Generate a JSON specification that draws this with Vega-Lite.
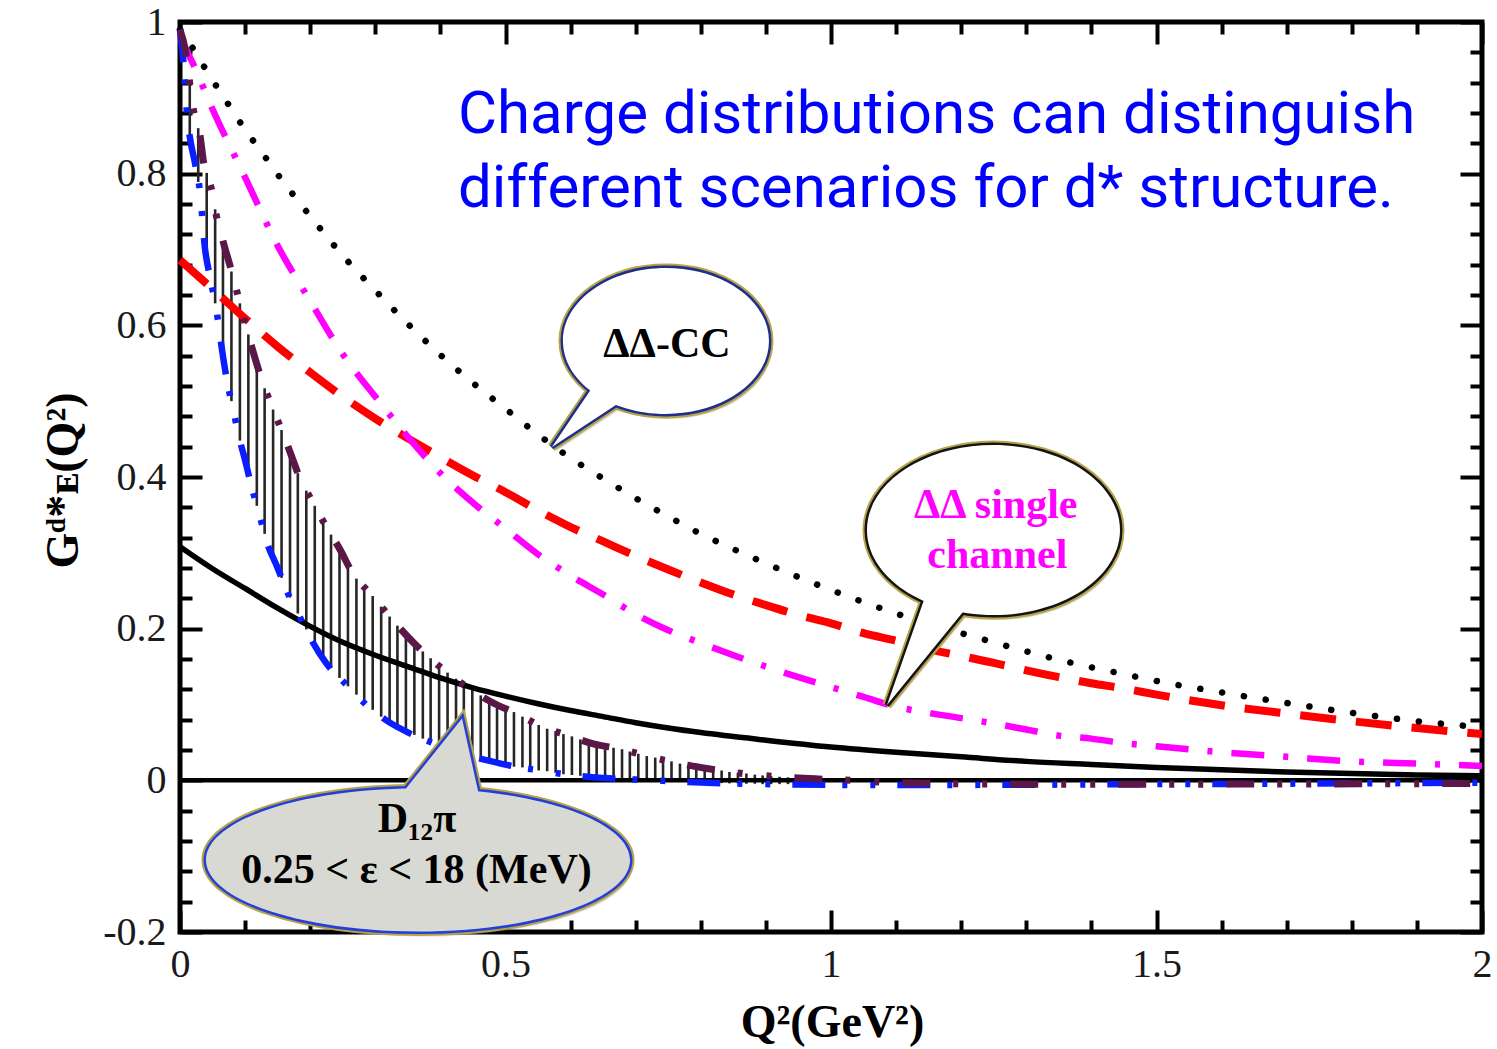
{
"$schema": "https://vega.github.io/schema/vega-lite/v6.json",
"width": 1302, "height": 910,
"autosize": {"type": "none"},
"padding": {"left": 180, "top": 22, "right": 15, "bottom": 117},
"background": "white",
"config": {"view": {"stroke": "black", "strokeWidth": 5}},
"datasets": {
"curves": [
{"s":"cc","q":0,"g":0.99},{"s":"cc","q":0.02,"g":0.965},{"s":"cc","q":0.04,"g":0.937},{"s":"cc","q":0.06,"g":0.91},{"s":"cc","q":0.08,"g":0.884},{"s":"cc","q":0.1,"g":0.858},{"s":"cc","q":0.125,"g":0.829},{"s":"cc","q":0.15,"g":0.799},{"s":"cc","q":0.175,"g":0.771},{"s":"cc","q":0.2,"g":0.744},{"s":"cc","q":0.25,"g":0.692},{"s":"cc","q":0.3,"g":0.646},{"s":"cc","q":0.35,"g":0.602},{"s":"cc","q":0.4,"g":0.561},{"s":"cc","q":0.45,"g":0.524},{"s":"cc","q":0.5,"g":0.49},{"s":"cc","q":0.55,"g":0.456},{"s":"cc","q":0.6,"g":0.425},{"s":"cc","q":0.65,"g":0.398},{"s":"cc","q":0.7,"g":0.372},{"s":"cc","q":0.75,"g":0.348},{"s":"cc","q":0.8,"g":0.325},{"s":"cc","q":0.85,"g":0.305},{"s":"cc","q":0.9,"g":0.286},{"s":"cc","q":0.95,"g":0.268},{"s":"cc","q":1.0,"g":0.251},{"s":"cc","q":1.05,"g":0.235},{"s":"cc","q":1.1,"g":0.22},{"s":"cc","q":1.15,"g":0.207},{"s":"cc","q":1.2,"g":0.194},{"s":"cc","q":1.25,"g":0.182},{"s":"cc","q":1.3,"g":0.17},{"s":"cc","q":1.35,"g":0.159},{"s":"cc","q":1.4,"g":0.149},{"s":"cc","q":1.45,"g":0.14},{"s":"cc","q":1.5,"g":0.131},{"s":"cc","q":1.6,"g":0.116},{"s":"cc","q":1.7,"g":0.102},{"s":"cc","q":1.8,"g":0.089},{"s":"cc","q":1.9,"g":0.078},{"s":"cc","q":2.0,"g":0.07},
{"s":"red","q":0,"g":0.686},{"s":"red","q":0.05,"g":0.648},{"s":"red","q":0.1,"g":0.609},{"s":"red","q":0.15,"g":0.572},{"s":"red","q":0.2,"g":0.538},{"s":"red","q":0.25,"g":0.506},{"s":"red","q":0.3,"g":0.477},{"s":"red","q":0.35,"g":0.451},{"s":"red","q":0.4,"g":0.426},{"s":"red","q":0.45,"g":0.402},{"s":"red","q":0.5,"g":0.38},{"s":"red","q":0.55,"g":0.356},{"s":"red","q":0.6,"g":0.334},{"s":"red","q":0.65,"g":0.315},{"s":"red","q":0.7,"g":0.296},{"s":"red","q":0.75,"g":0.278},{"s":"red","q":0.8,"g":0.261},{"s":"red","q":0.85,"g":0.245},{"s":"red","q":0.9,"g":0.231},{"s":"red","q":0.95,"g":0.218},{"s":"red","q":1.0,"g":0.207},{"s":"red","q":1.05,"g":0.194},{"s":"red","q":1.1,"g":0.184},{"s":"red","q":1.15,"g":0.173},{"s":"red","q":1.2,"g":0.164},{"s":"red","q":1.25,"g":0.155},{"s":"red","q":1.3,"g":0.145},{"s":"red","q":1.35,"g":0.136},{"s":"red","q":1.4,"g":0.128},{"s":"red","q":1.45,"g":0.121},{"s":"red","q":1.5,"g":0.113},{"s":"red","q":1.6,"g":0.099},{"s":"red","q":1.7,"g":0.088},{"s":"red","q":1.8,"g":0.078},{"s":"red","q":1.9,"g":0.069},{"s":"red","q":2.0,"g":0.061},
{"s":"mag","q":0,"g":0.98},{"s":"mag","q":0.02,"g":0.945},{"s":"mag","q":0.05,"g":0.885},{"s":"mag","q":0.1,"g":0.795},{"s":"mag","q":0.15,"g":0.705},{"s":"mag","q":0.2,"g":0.632},{"s":"mag","q":0.25,"g":0.562},{"s":"mag","q":0.3,"g":0.506},{"s":"mag","q":0.35,"g":0.453},{"s":"mag","q":0.4,"g":0.405},{"s":"mag","q":0.45,"g":0.366},{"s":"mag","q":0.5,"g":0.332},{"s":"mag","q":0.55,"g":0.298},{"s":"mag","q":0.6,"g":0.27},{"s":"mag","q":0.65,"g":0.245},{"s":"mag","q":0.7,"g":0.219},{"s":"mag","q":0.75,"g":0.198},{"s":"mag","q":0.8,"g":0.181},{"s":"mag","q":0.85,"g":0.165},{"s":"mag","q":0.9,"g":0.15},{"s":"mag","q":0.95,"g":0.136},{"s":"mag","q":1.0,"g":0.123},{"s":"mag","q":1.05,"g":0.11},{"s":"mag","q":1.1,"g":0.097},{"s":"mag","q":1.15,"g":0.089},{"s":"mag","q":1.2,"g":0.082},{"s":"mag","q":1.25,"g":0.075},{"s":"mag","q":1.3,"g":0.067},{"s":"mag","q":1.35,"g":0.059},{"s":"mag","q":1.4,"g":0.055},{"s":"mag","q":1.45,"g":0.049},{"s":"mag","q":1.5,"g":0.045},{"s":"mag","q":1.6,"g":0.037},{"s":"mag","q":1.7,"g":0.031},{"s":"mag","q":1.8,"g":0.025},{"s":"mag","q":1.9,"g":0.022},{"s":"mag","q":2.0,"g":0.019},
{"s":"solid","q":0,"g":0.308},{"s":"solid","q":0.05,"g":0.279},{"s":"solid","q":0.1,"g":0.253},{"s":"solid","q":0.15,"g":0.227},{"s":"solid","q":0.2,"g":0.203},{"s":"solid","q":0.25,"g":0.182},{"s":"solid","q":0.3,"g":0.165},{"s":"solid","q":0.35,"g":0.15},{"s":"solid","q":0.4,"g":0.135},{"s":"solid","q":0.45,"g":0.122},{"s":"solid","q":0.5,"g":0.111},{"s":"solid","q":0.55,"g":0.101},{"s":"solid","q":0.6,"g":0.092},{"s":"solid","q":0.65,"g":0.084},{"s":"solid","q":0.7,"g":0.076},{"s":"solid","q":0.75,"g":0.069},{"s":"solid","q":0.8,"g":0.063},{"s":"solid","q":0.9,"g":0.053},{"s":"solid","q":1.0,"g":0.044},{"s":"solid","q":1.1,"g":0.037},{"s":"solid","q":1.2,"g":0.031},{"s":"solid","q":1.3,"g":0.025},{"s":"solid","q":1.4,"g":0.021},{"s":"solid","q":1.5,"g":0.017},{"s":"solid","q":1.6,"g":0.014},{"s":"solid","q":1.7,"g":0.011},{"s":"solid","q":1.8,"g":0.009},{"s":"solid","q":1.9,"g":0.007},{"s":"solid","q":2.0,"g":0.006},
{"s":"blue","q":0,"g":0.99},{"s":"blue","q":0.005,"g":0.95},{"s":"blue","q":0.01,"g":0.887},{"s":"blue","q":0.015,"g":0.849},{"s":"blue","q":0.023,"g":0.814},{"s":"blue","q":0.031,"g":0.774},{"s":"blue","q":0.038,"g":0.704},{"s":"blue","q":0.046,"g":0.664},{"s":"blue","q":0.056,"g":0.62},{"s":"blue","q":0.065,"g":0.565},{"s":"blue","q":0.072,"g":0.528},{"s":"blue","q":0.082,"g":0.488},{"s":"blue","q":0.09,"g":0.455},{"s":"blue","q":0.1,"g":0.422},{"s":"blue","q":0.11,"g":0.387},{"s":"blue","q":0.123,"g":0.347},{"s":"blue","q":0.133,"g":0.315},{"s":"blue","q":0.149,"g":0.282},{"s":"blue","q":0.166,"g":0.246},{"s":"blue","q":0.189,"g":0.207},{"s":"blue","q":0.202,"g":0.185},{"s":"blue","q":0.225,"g":0.154},{"s":"blue","q":0.251,"g":0.13},{"s":"blue","q":0.287,"g":0.099},{"s":"blue","q":0.317,"g":0.079},{"s":"blue","q":0.353,"g":0.062},{"s":"blue","q":0.392,"g":0.048},{"s":"blue","q":0.43,"g":0.036},{"s":"blue","q":0.474,"g":0.026},{"s":"blue","q":0.515,"g":0.018},{"s":"blue","q":0.553,"g":0.013},{"s":"blue","q":0.6,"g":0.007},{"s":"blue","q":0.65,"g":0.003},{"s":"blue","q":0.7,"g":0.001},{"s":"blue","q":0.75,"g":-0.001},{"s":"blue","q":0.8,"g":-0.003},{"s":"blue","q":0.9,"g":-0.005},{"s":"blue","q":1.0,"g":-0.006},{"s":"blue","q":1.2,"g":-0.006},{"s":"blue","q":1.5,"g":-0.005},{"s":"blue","q":1.8,"g":-0.004},{"s":"blue","q":2.0,"g":-0.003},
{"s":"pur","q":0,"g":0.99},{"s":"pur","q":0.008,"g":0.964},{"s":"pur","q":0.02,"g":0.887},{"s":"pur","q":0.031,"g":0.849},{"s":"pur","q":0.036,"g":0.816},{"s":"pur","q":0.049,"g":0.777},{"s":"pur","q":0.056,"g":0.744},{"s":"pur","q":0.067,"g":0.708},{"s":"pur","q":0.077,"g":0.678},{"s":"pur","q":0.09,"g":0.636},{"s":"pur","q":0.1,"g":0.603},{"s":"pur","q":0.11,"g":0.572},{"s":"pur","q":0.123,"g":0.535},{"s":"pur","q":0.136,"g":0.504},{"s":"pur","q":0.154,"g":0.466},{"s":"pur","q":0.169,"g":0.433},{"s":"pur","q":0.182,"g":0.403},{"s":"pur","q":0.205,"g":0.365},{"s":"pur","q":0.223,"g":0.337},{"s":"pur","q":0.246,"g":0.304},{"s":"pur","q":0.264,"g":0.275},{"s":"pur","q":0.297,"g":0.242},{"s":"pur","q":0.32,"g":0.218},{"s":"pur","q":0.348,"g":0.191},{"s":"pur","q":0.376,"g":0.167},{"s":"pur","q":0.415,"g":0.139},{"s":"pur","q":0.45,"g":0.118},{"s":"pur","q":0.479,"g":0.103},{"s":"pur","q":0.517,"g":0.088},{"s":"pur","q":0.558,"g":0.07},{"s":"pur","q":0.597,"g":0.059},{"s":"pur","q":0.635,"g":0.048},{"s":"pur","q":0.673,"g":0.042},{"s":"pur","q":0.722,"g":0.031},{"s":"pur","q":0.78,"g":0.02},{"s":"pur","q":0.845,"g":0.011},{"s":"pur","q":0.9,"g":0.006},{"s":"pur","q":0.95,"g":0.003},{"s":"pur","q":1.03,"g":0.0},{"s":"pur","q":1.1,"g":-0.003},{"s":"pur","q":1.3,"g":-0.005},{"s":"pur","q":1.6,"g":-0.005},{"s":"pur","q":2.0,"g":-0.004}
],
"band": [
{"q":0.015,"lo":0.849,"hi":0.92},{"q":0.028,"lo":0.789,"hi":0.86},{"q":0.041,"lo":0.689,"hi":0.801},{"q":0.054,"lo":0.629,"hi":0.753},{"q":0.066,"lo":0.56,"hi":0.711},{"q":0.079,"lo":0.5,"hi":0.671},{"q":0.092,"lo":0.448,"hi":0.629},{"q":0.105,"lo":0.404,"hi":0.588},{"q":0.118,"lo":0.362,"hi":0.549},{"q":0.13,"lo":0.325,"hi":0.517},{"q":0.143,"lo":0.294,"hi":0.489},{"q":0.156,"lo":0.267,"hi":0.462},{"q":0.169,"lo":0.241,"hi":0.433},{"q":0.181,"lo":0.22,"hi":0.405},{"q":0.194,"lo":0.199,"hi":0.382},{"q":0.207,"lo":0.178,"hi":0.362},{"q":0.22,"lo":0.161,"hi":0.342},{"q":0.232,"lo":0.148,"hi":0.324},{"q":0.245,"lo":0.135,"hi":0.305},{"q":0.258,"lo":0.124,"hi":0.284},{"q":0.271,"lo":0.113,"hi":0.266},{"q":0.283,"lo":0.102,"hi":0.255},{"q":0.296,"lo":0.093,"hi":0.243},{"q":0.309,"lo":0.084,"hi":0.229},{"q":0.322,"lo":0.077,"hi":0.216},{"q":0.334,"lo":0.071,"hi":0.204},{"q":0.347,"lo":0.065,"hi":0.192},{"q":0.36,"lo":0.06,"hi":0.181},{"q":0.373,"lo":0.055,"hi":0.17},{"q":0.385,"lo":0.05,"hi":0.161},{"q":0.398,"lo":0.046,"hi":0.151},{"q":0.411,"lo":0.042,"hi":0.142},{"q":0.424,"lo":0.038,"hi":0.134},{"q":0.436,"lo":0.035,"hi":0.126},{"q":0.449,"lo":0.032,"hi":0.119},{"q":0.462,"lo":0.029,"hi":0.112},{"q":0.475,"lo":0.026,"hi":0.105},{"q":0.487,"lo":0.023,"hi":0.1},{"q":0.5,"lo":0.021,"hi":0.095},{"q":0.513,"lo":0.018,"hi":0.09},{"q":0.526,"lo":0.017,"hi":0.084},{"q":0.538,"lo":0.015,"hi":0.079},{"q":0.551,"lo":0.013,"hi":0.073},{"q":0.564,"lo":0.012,"hi":0.068},{"q":0.577,"lo":0.01,"hi":0.065},{"q":0.589,"lo":0.008,"hi":0.061},{"q":0.602,"lo":0.007,"hi":0.058},{"q":0.615,"lo":0.006,"hi":0.054},{"q":0.628,"lo":0.005,"hi":0.05},{"q":0.64,"lo":0.004,"hi":0.047},{"q":0.653,"lo":0.003,"hi":0.045},{"q":0.666,"lo":0.0025,"hi":0.043},{"q":0.679,"lo":0.002,"hi":0.041},{"q":0.691,"lo":0.0015,"hi":0.038},{"q":0.704,"lo":0.001,"hi":0.035},{"q":0.717,"lo":0.0005,"hi":0.032},{"q":0.73,"lo":0,"hi":0.03},{"q":0.742,"lo":-0.0005,"hi":0.027},{"q":0.755,"lo":-0.001,"hi":0.025},{"q":0.768,"lo":-0.0015,"hi":0.022},{"q":0.781,"lo":-0.002,"hi":0.02},{"q":0.793,"lo":-0.0025,"hi":0.018},{"q":0.806,"lo":-0.003,"hi":0.016},{"q":0.819,"lo":-0.0033,"hi":0.015},{"q":0.832,"lo":-0.0036,"hi":0.013},{"q":0.844,"lo":-0.004,"hi":0.011},{"q":0.857,"lo":-0.004,"hi":0.01},{"q":0.87,"lo":-0.0045,"hi":0.009},{"q":0.883,"lo":-0.0045,"hi":0.0075},{"q":0.895,"lo":-0.005,"hi":0.0065},{"q":0.908,"lo":-0.005,"hi":0.0055},{"q":0.921,"lo":-0.005,"hi":0.0047},{"q":0.934,"lo":-0.005,"hi":0.004},{"q":0.946,"lo":-0.005,"hi":0.003}
],
"bubbles": [
{"b":"cc","q":0.7465,"g":0.5795},
{"b":"single","q":1.2496,"g":0.33},
{"b":"d12","q":0.3656,"g":-0.105}
],
"notes": [
{"k":"cc","t":"ΔΔ-CC","q":0.748,"g":0.5584},
{"k":"single","t":"ΔΔ single","q":1.253,"g":0.3459},
{"k":"single","t":"channel","q":1.2555,"g":0.2799},
{"k":"d12","t":"D₁₂π","q":0.364,"g":-0.0686},
{"k":"d12","t":"0.25 < ε < 18 (MeV)","q":0.3633,"g":-0.136},
{"k":"head","t":"Charge distributions can distinguish","q":0.427,"g":0.854},
{"k":"head","t":"different scenarios for d* structure.","q":0.427,"g":0.7565}
]
},
"resolve": {"axis": {"x": "independent", "y": "independent"}},
"layer": [
{"data": {"name": "band"},
 "mark": {"type": "rule", "stroke": "#262626", "strokeWidth": 2.6},
 "encoding": {
  "x": {"field": "q", "type": "quantitative", "scale": {"domain": [0, 2], "nice": false, "zero": false},
   "axis": {"orient": "bottom", "values": [0, 0.5, 1, 1.5, 2], "ticks": false, "domain": false, "grid": false, "labelFlush": false, "labelOverlap": false, "labelBound": false, "labelFont": "Liberation Serif", "labelFontSize": 40, "labelColor": "#1a1a1a", "labelPadding": 12, "labelExpr": "replace(format(datum.value,'~g'),'\u2212','-')", "title": "Q²(GeV²)", "titleFont": "Liberation Serif", "titleFontSize": 46, "titleFontWeight": "bold", "titleColor": "black", "titleX": 652, "titleY": 104, "titleAlign": "center", "titleBaseline": "alphabetic", "titleAngle": 0}},
  "y": {"field": "lo", "type": "quantitative", "scale": {"domain": [-0.2, 1], "nice": false, "zero": false},
   "axis": {"orient": "left", "values": [-0.2, 0, 0.2, 0.4, 0.6, 0.8, 1], "ticks": false, "domain": false, "grid": false, "labelFlush": false, "labelOverlap": false, "labelBound": false, "labelFont": "Liberation Serif", "labelFontSize": 40, "labelColor": "#1a1a1a", "labelPadding": 14, "labelExpr": "replace(format(datum.value,'~g'),'\u2212','-')", "title": "Gᵈ*ᴇ(Q²)", "titleFont": "Liberation Serif", "titleFontSize": 46, "titleFontWeight": "bold", "titleColor": "black", "titleX": -103, "titleY": 458, "titleAlign": "center", "titleBaseline": "alphabetic", "titleAngle": 270}},
  "y2": {"field": "hi"}
 }},
{"data": {"values": [{}]},
 "mark": {"type": "rule", "stroke": "black", "strokeWidth": 4.5},
 "encoding": {"y": {"datum": 0, "type": "quantitative", "scale": {"domain": [-0.2, 1], "nice": false, "zero": false}, "axis": null}}},
{"data": {"name": "curves"}, "transform": [{"filter": "datum.s === 'solid'"}],
 "mark": {"type": "line", "stroke": "black", "strokeWidth": 5.5, "interpolate": "monotone"},
 "encoding": {
  "x": {"field": "q", "type": "quantitative", "scale": {"domain": [0, 2], "nice": false, "zero": false},
   "axis": {"orient": "bottom", "values": [0, 0.5, 1, 1.5, 2], "labels": false, "ticks": true, "tickSize": -22, "tickWidth": 4, "tickColor": "black", "domain": false, "grid": false, "title": null}},
  "y": {"field": "g", "type": "quantitative", "scale": {"domain": [-0.2, 1], "nice": false, "zero": false},
   "axis": {"orient": "left", "values": [-0.2, 0, 0.2, 0.4, 0.6, 0.8, 1], "labels": false, "ticks": true, "tickSize": -22, "tickWidth": 4, "tickColor": "black", "domain": false, "grid": false, "title": null}}
 }},
{"data": {"name": "curves"}, "transform": [{"filter": "datum.s === 'red'"}],
 "mark": {"type": "line", "stroke": "#ff0000", "strokeWidth": 8, "strokeDash": [36, 20], "interpolate": "monotone"},
 "encoding": {
  "x": {"field": "q", "type": "quantitative", "scale": {"domain": [0, 2], "nice": false, "zero": false},
   "axis": {"orient": "bottom", "values": [0.1, 0.2, 0.3, 0.4, 0.6, 0.7, 0.8, 0.9, 1.1, 1.2, 1.3, 1.4, 1.6, 1.7, 1.8, 1.9], "labels": false, "ticks": true, "tickSize": -12, "tickWidth": 4, "tickColor": "black", "domain": false, "grid": false, "title": null}},
  "y": {"field": "g", "type": "quantitative", "scale": {"domain": [-0.2, 1], "nice": false, "zero": false},
   "axis": {"orient": "left", "values": [-0.16, -0.12, -0.08, -0.04, 0.04, 0.08, 0.12, 0.16, 0.24, 0.28, 0.32, 0.36, 0.44, 0.48, 0.52, 0.56, 0.64, 0.68, 0.72, 0.76, 0.84, 0.88, 0.92, 0.96], "labels": false, "ticks": true, "tickSize": -12, "tickWidth": 4, "tickColor": "black", "domain": false, "grid": false, "title": null}}
 }},
{"data": {"name": "curves"}, "transform": [{"filter": "datum.s === 'mag'"}],
 "mark": {"type": "line", "stroke": "#ff00ff", "strokeWidth": 6.5, "strokeDash": [33, 19, 5, 19], "interpolate": "monotone"},
 "encoding": {
  "x": {"field": "q", "type": "quantitative", "scale": {"domain": [0, 2], "nice": false, "zero": false},
   "axis": {"orient": "top", "values": [0, 0.5, 1, 1.5, 2], "labels": false, "ticks": true, "tickSize": -22, "tickWidth": 4, "tickColor": "black", "domain": false, "grid": false, "title": null}},
  "y": {"field": "g", "type": "quantitative", "scale": {"domain": [-0.2, 1], "nice": false, "zero": false},
   "axis": {"orient": "right", "values": [-0.2, 0, 0.2, 0.4, 0.6, 0.8, 1], "labels": false, "ticks": true, "tickSize": -22, "tickWidth": 4, "tickColor": "black", "domain": false, "grid": false, "title": null}}
 }},
{"data": {"name": "curves"}, "transform": [{"filter": "datum.s === 'cc'"}],
 "mark": {"type": "line", "stroke": "black", "strokeWidth": 6.5, "strokeCap": "round", "strokeDash": [0.1, 22], "interpolate": "monotone"},
 "encoding": {
  "x": {"field": "q", "type": "quantitative", "scale": {"domain": [0, 2], "nice": false, "zero": false},
   "axis": {"orient": "top", "values": [0.1, 0.2, 0.3, 0.4, 0.6, 0.7, 0.8, 0.9, 1.1, 1.2, 1.3, 1.4, 1.6, 1.7, 1.8, 1.9], "labels": false, "ticks": true, "tickSize": -12, "tickWidth": 4, "tickColor": "black", "domain": false, "grid": false, "title": null}},
  "y": {"field": "g", "type": "quantitative", "scale": {"domain": [-0.2, 1], "nice": false, "zero": false},
   "axis": {"orient": "right", "values": [-0.16, -0.12, -0.08, -0.04, 0.04, 0.08, 0.12, 0.16, 0.24, 0.28, 0.32, 0.36, 0.44, 0.48, 0.52, 0.56, 0.64, 0.68, 0.72, 0.76, 0.84, 0.88, 0.92, 0.96], "labels": false, "ticks": true, "tickSize": -12, "tickWidth": 4, "tickColor": "black", "domain": false, "grid": false, "title": null}}
 }},
{"data": {"name": "curves"}, "transform": [{"filter": "datum.s === 'blue'"}],
 "mark": {"type": "line", "stroke": "#0a1eff", "strokeWidth": 6.5, "strokeDash": [33, 17, 5, 23, 5, 22], "interpolate": "monotone"},
 "encoding": {
  "x": {"field": "q", "type": "quantitative", "scale": {"domain": [0, 2], "nice": false, "zero": false}, "axis": null},
  "y": {"field": "g", "type": "quantitative", "scale": {"domain": [-0.2, 1], "nice": false, "zero": false}, "axis": null}
 }},
{"data": {"name": "curves"}, "transform": [{"filter": "datum.s === 'pur'"}],
 "mark": {"type": "line", "stroke": "#5a1748", "strokeWidth": 7, "strokeDash": [28, 23, 5, 24, 5, 23], "interpolate": "monotone"},
 "encoding": {
  "x": {"field": "q", "type": "quantitative", "scale": {"domain": [0, 2], "nice": false, "zero": false}, "axis": null},
  "y": {"field": "g", "type": "quantitative", "scale": {"domain": [-0.2, 1], "nice": false, "zero": false}, "axis": null}
 }},
{"data": {"name": "bubbles"},
 "mark": {"type": "point", "filled": true, "size": 40000, "fill": "#7a7a7a", "opacity": 0.3, "strokeWidth": 0, "xOffset": 3, "yOffset": 5},
 "encoding": {
  "x": {"field": "q", "type": "quantitative", "scale": {"domain": [0, 2], "nice": false, "zero": false}, "axis": null},
  "y": {"field": "g", "type": "quantitative", "scale": {"domain": [-0.2, 1], "nice": false, "zero": false}, "axis": null},
  "shape": {"field": "b", "type": "nominal", "legend": null, "scale": {"domain": ["cc", "single", "d12"], "range": [
   "M 1.03 0 C 1.03 0.403 0.569 0.73 0 0.73 C -0.569 0.73 -1.03 0.403 -1.03 0 C -1.03 -0.403 -0.569 -0.73 0 -0.73 C 0.569 -0.73 1.03 -0.403 1.03 0 Z M -0.72 0.44 L -0.44 0.6 L -1.14 1.06 Z",
   "M 1.265 0 C 1.265 0.469 0.699 0.85 0 0.85 C -0.699 0.85 -1.265 0.469 -1.265 0 C -1.265 -0.469 -0.699 -0.85 0 -0.85 C 0.699 -0.85 1.265 -0.469 1.265 0 Z M -0.66 0.6 L -0.24 0.74 L -1.065 1.75 Z",
   "M 2.12 0 C 2.12 0.395 1.171 0.715 0 0.715 C -1.171 0.715 -2.12 0.395 -2.12 0 C -2.12 -0.395 -1.171 -0.715 0 -0.715 C 1.171 -0.715 2.12 -0.395 2.12 0 Z M -0.18 -0.64 L 0.44 -1.415 L 0.62 -0.6 Z"]}}
 }},
{"data": {"name": "bubbles"},
 "mark": {"type": "point", "filled": false, "size": 40000, "stroke": "#b8a448", "strokeWidth": 9, "opacity": 1, "strokeJoin": "miter"},
 "encoding": {
  "x": {"field": "q", "type": "quantitative", "scale": {"domain": [0, 2], "nice": false, "zero": false}, "axis": null},
  "y": {"field": "g", "type": "quantitative", "scale": {"domain": [-0.2, 1], "nice": false, "zero": false}, "axis": null},
  "shape": {"field": "b", "type": "nominal", "legend": null, "scale": {"domain": ["cc", "single", "d12"], "range": [
   "M 1.03 0 C 1.03 0.403 0.569 0.73 0 0.73 C -0.569 0.73 -1.03 0.403 -1.03 0 C -1.03 -0.403 -0.569 -0.73 0 -0.73 C 0.569 -0.73 1.03 -0.403 1.03 0 Z M -0.72 0.44 L -0.44 0.6 L -1.14 1.06 Z",
   "M 1.265 0 C 1.265 0.469 0.699 0.85 0 0.85 C -0.699 0.85 -1.265 0.469 -1.265 0 C -1.265 -0.469 -0.699 -0.85 0 -0.85 C 0.699 -0.85 1.265 -0.469 1.265 0 Z M -0.66 0.6 L -0.24 0.74 L -1.065 1.75 Z",
   "M 2.12 0 C 2.12 0.395 1.171 0.715 0 0.715 C -1.171 0.715 -2.12 0.395 -2.12 0 C -2.12 -0.395 -1.171 -0.715 0 -0.715 C 1.171 -0.715 2.12 -0.395 2.12 0 Z M -0.18 -0.64 L 0.44 -1.415 L 0.62 -0.6 Z"]}}
 }},
{"data": {"name": "bubbles"},
 "mark": {"type": "point", "filled": false, "size": 40000, "strokeWidth": 5, "opacity": 1},
 "encoding": {
  "x": {"field": "q", "type": "quantitative", "scale": {"domain": [0, 2], "nice": false, "zero": false}, "axis": null},
  "y": {"field": "g", "type": "quantitative", "scale": {"domain": [-0.2, 1], "nice": false, "zero": false}, "axis": null},
  "stroke": {"field": "b", "type": "nominal", "legend": null, "scale": {"domain": ["cc", "single", "d12"], "range": ["#1f2f8c", "#141414", "#2540d8"]}},
  "shape": {"field": "b", "type": "nominal", "legend": null, "scale": {"domain": ["cc", "single", "d12"], "range": [
   "M 1.03 0 C 1.03 0.403 0.569 0.73 0 0.73 C -0.569 0.73 -1.03 0.403 -1.03 0 C -1.03 -0.403 -0.569 -0.73 0 -0.73 C 0.569 -0.73 1.03 -0.403 1.03 0 Z M -0.72 0.44 L -0.44 0.6 L -1.14 1.06 Z",
   "M 1.265 0 C 1.265 0.469 0.699 0.85 0 0.85 C -0.699 0.85 -1.265 0.469 -1.265 0 C -1.265 -0.469 -0.699 -0.85 0 -0.85 C 0.699 -0.85 1.265 -0.469 1.265 0 Z M -0.66 0.6 L -0.24 0.74 L -1.065 1.75 Z",
   "M 2.12 0 C 2.12 0.395 1.171 0.715 0 0.715 C -1.171 0.715 -2.12 0.395 -2.12 0 C -2.12 -0.395 -1.171 -0.715 0 -0.715 C 1.171 -0.715 2.12 -0.395 2.12 0 Z M -0.18 -0.64 L 0.44 -1.415 L 0.62 -0.6 Z"]}}
 }},
{"data": {"name": "bubbles"},
 "mark": {"type": "point", "filled": true, "size": 40000, "strokeWidth": 0, "opacity": 1},
 "encoding": {
  "x": {"field": "q", "type": "quantitative", "scale": {"domain": [0, 2], "nice": false, "zero": false}, "axis": null},
  "y": {"field": "g", "type": "quantitative", "scale": {"domain": [-0.2, 1], "nice": false, "zero": false}, "axis": null},
  "fill": {"field": "b", "type": "nominal", "legend": null, "scale": {"domain": ["cc", "single", "d12"], "range": ["#ffffff", "#ffffff", "#d9d9d3"]}},
  "shape": {"field": "b", "type": "nominal", "legend": null, "scale": {"domain": ["cc", "single", "d12"], "range": [
   "M 1.03 0 C 1.03 0.403 0.569 0.73 0 0.73 C -0.569 0.73 -1.03 0.403 -1.03 0 C -1.03 -0.403 -0.569 -0.73 0 -0.73 C 0.569 -0.73 1.03 -0.403 1.03 0 Z M -0.72 0.44 L -0.44 0.6 L -1.14 1.06 Z",
   "M 1.265 0 C 1.265 0.469 0.699 0.85 0 0.85 C -0.699 0.85 -1.265 0.469 -1.265 0 C -1.265 -0.469 -0.699 -0.85 0 -0.85 C 0.699 -0.85 1.265 -0.469 1.265 0 Z M -0.66 0.6 L -0.24 0.74 L -1.065 1.75 Z",
   "M 2.12 0 C 2.12 0.395 1.171 0.715 0 0.715 C -1.171 0.715 -2.12 0.395 -2.12 0 C -2.12 -0.395 -1.171 -0.715 0 -0.715 C 1.171 -0.715 2.12 -0.395 2.12 0 Z M -0.18 -0.64 L 0.44 -1.415 L 0.62 -0.6 Z"]}}
 }},
{"data": {"name": "notes"}, "transform": [{"filter": "datum.k === 'cc' || datum.k === 'd12'"}],
 "mark": {"type": "text", "font": "Liberation Serif", "fontSize": 42, "fontWeight": "bold", "color": "black", "align": "center", "baseline": "alphabetic"},
 "encoding": {
  "x": {"field": "q", "type": "quantitative", "scale": {"domain": [0, 2], "nice": false, "zero": false}, "axis": null},
  "y": {"field": "g", "type": "quantitative", "scale": {"domain": [-0.2, 1], "nice": false, "zero": false}, "axis": null},
  "text": {"field": "t"}
 }},
{"data": {"name": "notes"}, "transform": [{"filter": "datum.k === 'single'"}],
 "mark": {"type": "text", "font": "Liberation Serif", "fontSize": 42, "fontWeight": "bold", "color": "#ff00ff", "align": "center", "baseline": "alphabetic"},
 "encoding": {
  "x": {"field": "q", "type": "quantitative", "scale": {"domain": [0, 2], "nice": false, "zero": false}, "axis": null},
  "y": {"field": "g", "type": "quantitative", "scale": {"domain": [-0.2, 1], "nice": false, "zero": false}, "axis": null},
  "text": {"field": "t"}
 }},
{"data": {"name": "notes"}, "transform": [{"filter": "datum.k === 'head'"}],
 "mark": {"type": "text", "font": "Roboto", "fontSize": 60, "color": "#0000ff", "align": "left", "baseline": "alphabetic"},
 "encoding": {
  "x": {"field": "q", "type": "quantitative", "scale": {"domain": [0, 2], "nice": false, "zero": false}, "axis": null},
  "y": {"field": "g", "type": "quantitative", "scale": {"domain": [-0.2, 1], "nice": false, "zero": false}, "axis": null},
  "text": {"field": "t"}
 }}
]
}
